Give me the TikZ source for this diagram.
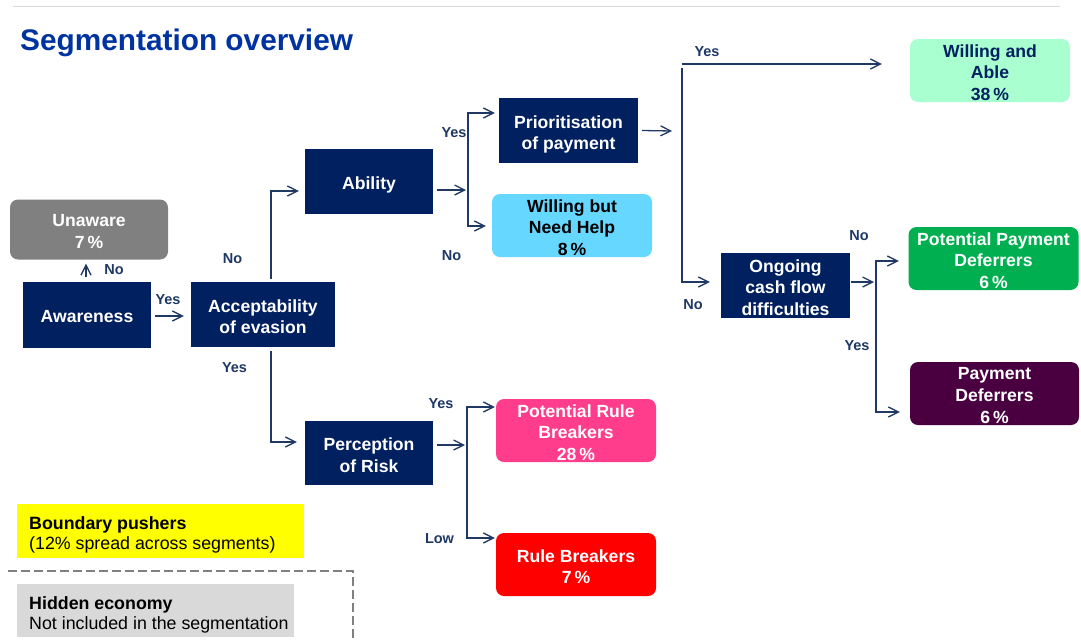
\documentclass[tikz,border=0pt]{standalone}
\usepackage{fontspec}
\setmainfont{Liberation Sans}
\usetikzlibrary{arrows.meta}
\definecolor{navybox}{HTML}{00205F}
\definecolor{linkcol}{HTML}{1F3864}
\definecolor{titleblue}{HTML}{0033A0}
\definecolor{unawaregray}{HTML}{808080}
\definecolor{helpblue}{HTML}{66D8FF}
\definecolor{ablemint}{HTML}{AAFFD0}
\definecolor{defgreen}{HTML}{00B050}
\definecolor{defpurple}{HTML}{4A0040}
\definecolor{rbpink}{HTML}{FF3D8C}
\definecolor{rbred}{HTML}{FF0000}
\definecolor{pushyellow}{HTML}{FFFF00}
\definecolor{hiddengray}{HTML}{D9D9D9}
\definecolor{rulegray}{HTML}{D9D9D9}
\newcommand{\boxfont}{\fontsize{17.6}{21.6}\selectfont\bfseries}
\newcommand{\lblfont}{\fontsize{14.5}{17}\selectfont\bfseries}
\newcommand{\notefont}{\fontsize{17.8}{20}\selectfont}
\begin{document}
\begin{tikzpicture}[x=1pt,y=-1pt,
  boxlabel/.style={font=\boxfont, align=center, inner sep=0pt, yshift=-2pt, text=white},
  txt/.style={label={[boxlabel]center:{#1}}},
  txtlow/.style={label={[boxlabel, yshift=-1.8pt]center:{#1}}},
  txtblack/.style={label={[boxlabel, text=black]center:{#1}}},
  txtnavy/.style={label={[boxlabel, text=navybox]center:{#1}}},
  decision/.style={rectangle, fill=navybox, inner sep=0pt},
  segment/.style={rectangle, rounded corners=8pt, inner sep=0pt},
  lbl/.style={font=\lblfont, text=linkcol, inner sep=0pt},
  arr/.style={draw=linkcol, line width=1.3pt, -{Straight Barb[length=10pt,width=10pt]}},
  note/.style={rectangle, inner sep=0pt, anchor=north west},
  notetext/.style={anchor=west, align=left, inner sep=0pt, font=\notefont}]
\useasboundingbox (0,0) rectangle (1081,641);

% header rule and title
\draw[rulegray, line width=1pt] (13,6) -- (1060,6);
\node[anchor=base west, inner sep=0pt, text=titleblue, font=\fontsize{29.8}{34}\selectfont\bfseries] (title) at (20,50) {Segmentation overview};

% decision boxes
\node[decision, minimum width=128pt, minimum height=66pt, txt={Awareness}] (aw) at (87,314.5) {};
\node[decision, minimum width=144pt, minimum height=65pt, txt={Acceptability\\of evasion}] (acc) at (263,314.5) {};
\node[decision, minimum width=128pt, minimum height=65pt, txtlow={Ability}] (ab) at (369,181) {};
\node[decision, minimum width=139pt, minimum height=65pt, txtlow={Prioritisation\\of payment}] (pri) at (568.5,130.5) {};
\node[decision, minimum width=129pt, minimum height=65pt, txt={Ongoing\\cash flow\\difficulties}] (og) at (785.5,285.5) {};
\node[decision, minimum width=128pt, minimum height=64pt, txt={Perception\\of Risk}] (per) at (369,453) {};

% segment boxes
\node[segment, fill=unawaregray, minimum width=158pt, minimum height=60pt, txt={Unaware\\7\,\%}] (un) at (89,229.5) {};
\node[segment, fill=helpblue, minimum width=160pt, minimum height=63pt, txtblack={Willing but\\Need Help\\8\,\%}] (wnh) at (572,225.5) {};
\node[segment, fill=ablemint, minimum width=160pt, minimum height=63pt, txtnavy={Willing and\\Able\\38\,\%}] (wa) at (990,70.5) {};
\node[segment, fill=defgreen, minimum width=170pt, minimum height=63pt, txt={Potential Payment\\Deferrers\\6\,\%}] (ppd) at (993.5,258.5) {};
\node[segment, fill=defpurple, minimum width=169pt, minimum height=63pt, txt={Payment\\Deferrers\\6\,\%}] (pd) at (994.5,393.5) {};
\node[segment, fill=rbpink, minimum width=160pt, minimum height=63pt, txt={Potential Rule\\Breakers\\28\,\%}] (prb) at (576,430.5) {};
\node[segment, fill=rbred, minimum width=160pt, minimum height=63pt, txt={Rule Breakers\\7\,\%}] (rb) at (576,564.5) {};

% branch points
\coordinate (b1) at (468,190);
\coordinate (b2) at (682,131);
\coordinate (b2t) at (682,64);
\coordinate (b3) at (876,282);
\coordinate (b4) at (467,445);

% connectors
\draw[arr] ([xshift=-1pt,yshift=4pt]aw.north) -- ([xshift=-3pt,yshift=-4pt]un.south);
\draw[arr] ([xshift=4pt,yshift=-1.5pt]aw.east) -- ([xshift=-7pt,yshift=-1.5pt]acc.west);
\draw[arr] ([xshift=8pt,yshift=3pt]acc.north) |- ([xshift=-6pt,yshift=-10pt]ab.west);
\draw[arr] ([xshift=8pt,yshift=-4pt]acc.south) |- ([xshift=-8pt,yshift=11pt]per.west);
\draw[arr] ([xshift=4pt,yshift=-9pt]ab.east) -- ([xshift=-2pt]b1);
\draw[arr] (b1) |- ([xshift=-4pt,yshift=17.5pt]pri.west);
\draw[arr] (b1) |- ([xshift=-6pt,yshift=-0.5pt]wnh.west);
\draw[arr] ([xshift=4pt]pri.east) -- ([xshift=-10pt]b2);
\draw[arr] (b2t) -- ([xshift=-28pt,yshift=6.5pt]wa.west);
\draw[arr] ([yshift=-3.5pt]b2t) |- ([xshift=-11pt,yshift=3.5pt]og.west);
\draw[arr] ([xshift=1pt,yshift=3.5pt]og.east) -- ([xshift=-2pt]b3);
\draw[arr] (b3) |- ([xshift=-9.5pt,yshift=-2.5pt]ppd.west);
\draw[arr] (b3) |- ([xshift=-10pt,yshift=-18.5pt]pd.west);
\draw[arr] ([xshift=4pt,yshift=8pt]per.east) -- ([xshift=-2pt]b4);
\draw[arr] (b4) |- ([xshift=-1pt,yshift=23.5pt]prb.west);
\draw[arr] (b4) |- ([xshift=-1pt,yshift=26.5pt]rb.west);

% branch labels
\node[lbl] (l1)  at (114,270) {No};
\node[lbl] (l2)  at (168,300) {Yes};
\node[lbl] (l3)  at (232.5,259) {No};
\node[lbl] (l4)  at (234.5,367.5) {Yes};
\node[lbl] (l5)  at (454,133) {Yes};
\node[lbl] (l6)  at (451.5,256) {No};
\node[lbl] (l7)  at (707,52) {Yes};
\node[lbl] (l8)  at (693,305) {No};
\node[lbl] (l9)  at (859,236) {No};
\node[lbl] (l10) at (857,346) {Yes};
\node[lbl] (l11) at (441,404) {Yes};
\node[lbl] (l12) at (439.5,539) {Low};

% notes
\node[note, fill=pushyellow, minimum width=287pt, minimum height=54pt] (bp) at (17,504) {};
\node[notetext] (bptext) at ([xshift=12pt,yshift=-4pt]bp.west)
  {\textbf{Boundary pushers}\\(12\% spread across segments)};
\node[note, fill=hiddengray, minimum width=277pt, minimum height=53pt] (he) at (17,584) {};
\node[notetext] (hetext) at ([xshift=12pt,yshift=-4.5pt]he.west)
  {\textbf{Hidden economy}\\Not included in the segmentation};
\draw[unawaregray, line width=2pt, dash pattern=on 9pt off 4pt] (8,571) -| (353,641);
\end{tikzpicture}
\end{document}
